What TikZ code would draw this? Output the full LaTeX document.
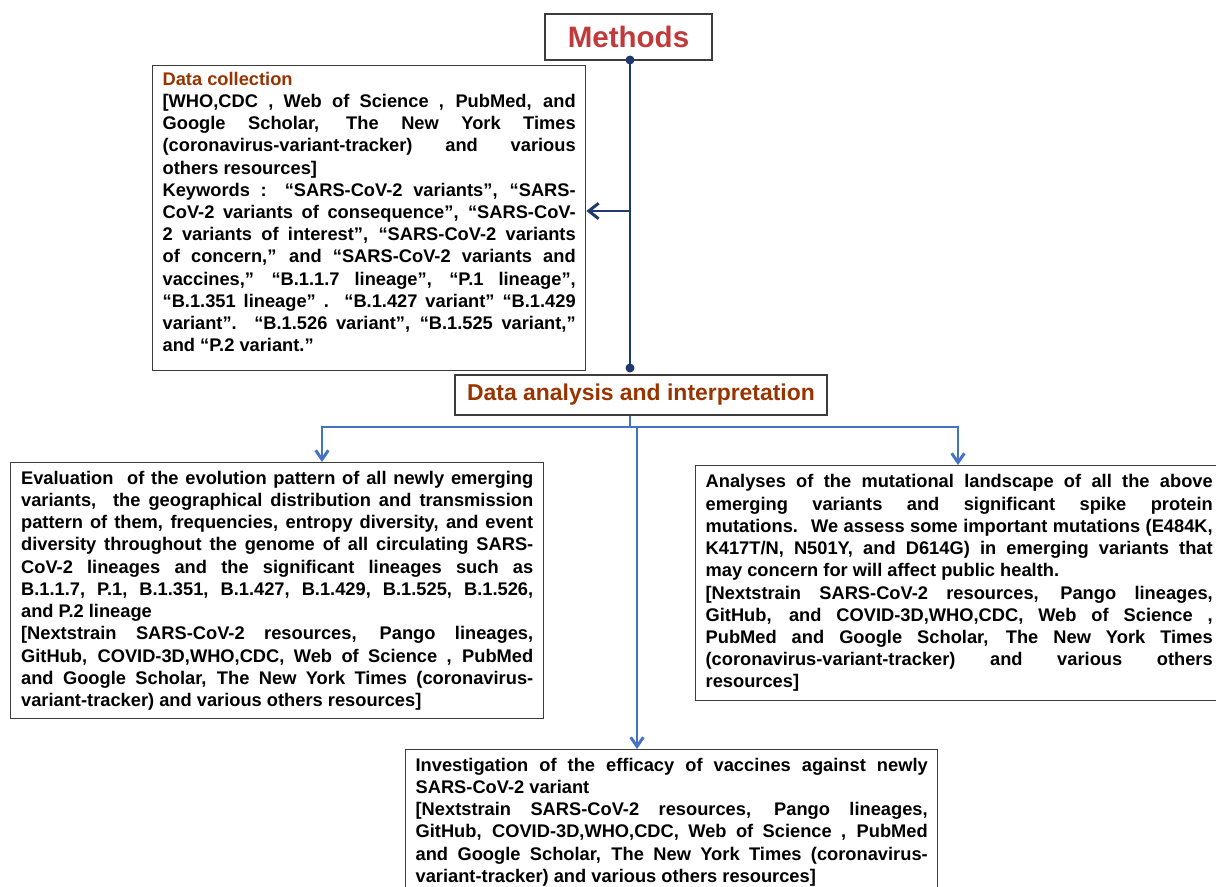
\documentclass[tikz,border=0pt]{standalone}
\usepackage{fontspec}
\setmainfont{Liberation Sans}
\usetikzlibrary{arrows.meta}

\definecolor{methodred}{RGB}{192,57,59}
\definecolor{headbrown}{RGB}{153,51,0}
\definecolor{navyline}{RGB}{31,56,110}
\definecolor{blueline}{RGB}{68,114,196}
\definecolor{boxgray}{RGB}{60,60,60}

\tolerance=10000
\hbadness=10000
\hyphenpenalty=10000
\exhyphenpenalty=10000

\tikzset{
    textbox/.style={
        draw=boxgray,
        line width=0.9pt,
        align=justify,
        inner xsep=0.25cm,
        anchor=north west,
        font=\fontsize{13}{15.8}\selectfont\bfseries
    },
    titlebox/.style={
        draw=boxgray,
        line width=1.1pt,
        inner sep=0pt
    },
    navyarrow/.style={
        navyline,
        line width=2.1pt
    },
    bluearrow/.style={
        blueline,
        line width=2.1pt
    }
}

\begin{document}
\begin{tikzpicture}[x=0.025cm, y=-0.025cm]
        \useasboundingbox (0,0) rectangle (1216,887);

        \node[
            titlebox,
            minimum width=4.175cm,
            minimum height=1.15cm,
            text=methodred,
            font=\fontsize{21}{25}\selectfont\bfseries
        ](methods) at (628.5,37){Methods};

        \node[
            textbox,
            text width=10.325cm,
            minimum height=7.625cm
        ](datacol) at (152,65){{\color{headbrown}Data collection}\\{}[WHO,CDC , Web of Science , PubMed, and\linebreak
Google Scholar, The New York Times\linebreak
(coronavirus-variant-tracker) and various\linebreak
others resources]\\{}Keywords : “SARS-CoV-2 variants”, “SARS-\linebreak
CoV-2 variants of consequence”, “SARS-CoV-\linebreak
2 variants of interest”, “SARS-CoV-2 variants\linebreak
of concern,” and “SARS-CoV-2 variants and\linebreak
vaccines,” “B.1.1.7 lineage”, “P.1 lineage”,\linebreak
“B.1.351 lineage” . “B.1.427 variant” “B.1.429\linebreak
variant”. “B.1.526 variant”, “B.1.525 variant,”\linebreak
and “P.2 variant.”\rule[-9pt]{0pt}{9pt}};

        \node[
            titlebox,
            minimum width=9.3cm,
            minimum height=1cm,
            text=headbrown,
            font=\fontsize{16.3}{19}\selectfont\bfseries
        ](analysis) at (641,395){Data analysis and interpretation};

        \node[
            textbox,
            text width=12.8cm,
            minimum height=6.4cm,
            inner xsep=0.2625cm
        ](evolution) at (10,462){Evaluation \ of the evolution pattern of all newly emerging\linebreak
variants, \ the geographical distribution and transmission\linebreak
pattern of them, frequencies, entropy diversity, and event\linebreak
diversity throughout the genome of all circulating SARS-\linebreak
CoV-2 lineages and the significant lineages such as\linebreak
B.1.1.7, P.1, B.1.351, B.1.427, B.1.429, B.1.525, B.1.526,\linebreak
and P.2 lineage\\{}[Nextstrain SARS-CoV-2 resources, Pango lineages,\linebreak
GitHub, COVID-3D,WHO,CDC, Web of Science , PubMed\linebreak
and Google Scholar, The New York Times (coronavirus-\linebreak
variant-tracker) and various others resources]};

        \node[
            textbox,
            text width=12.675cm,
            minimum height=5.875cm
        ](mutation) at (695,465){Analyses of the mutational landscape of all the above\linebreak
emerging variants and significant spike protein\linebreak
mutations. \ We assess some important mutations (E484K,\linebreak
K417T/N, N501Y, and D614G) in emerging variants that\linebreak
may concern for will affect public health.\\{}[Nextstrain SARS-CoV-2 resources, Pango lineages,\linebreak
GitHub, and COVID-3D,WHO,CDC, Web of Science ,\linebreak
PubMed and Google Scholar, The New York Times\linebreak
(coronavirus-variant-tracker) and various others\linebreak
resources]};

        \node[
            textbox,
            text width=12.8cm,
            minimum height=3.625cm
        ](vaccine) at (405,749){Investigation of the efficacy of vaccines against newly\linebreak
SARS-CoV-2 variant\\{}[Nextstrain SARS-CoV-2 resources, Pango lineages,\linebreak
GitHub, COVID-3D,WHO,CDC, Web of Science , PubMed\linebreak
and Google Scholar, The New York Times (coronavirus-\linebreak
variant-tracker) and various others resources]};

        \coordinate (top) at (630,60);
        \coordinate (bottom) at (630,368);
        \coordinate (kw) at (630,211);
        \coordinate (stub) at (630,427);
        \coordinate (leftend) at (322,427);
        \coordinate (rightend) at (958,427);
        \coordinate (midend) at (637,427);

        \draw [navyarrow](top)--(bottom);
        \fill [navyline](top) circle (4.5);
        \fill [navyline](bottom) circle (4.5);
        \draw [navyarrow, -{Straight Barb[length=7pt,width=11pt]}](kw)--(kw -| datacol.east);

        \draw [bluearrow](analysis.south -| stub)--(stub);
        \draw [bluearrow, line cap=rect](leftend)--(rightend);
        \draw [bluearrow, -{Straight Barb[length=6.5pt,width=9pt]}](leftend)--(leftend |- evolution.north);
        \draw [bluearrow, -{Straight Barb[length=6.5pt,width=9pt]}](rightend)--(rightend |- mutation.north);
        \draw [bluearrow, -{Straight Barb[length=6.5pt,width=9pt]}](midend)--(midend |- vaccine.north);
    \end{tikzpicture}
\end{document}
